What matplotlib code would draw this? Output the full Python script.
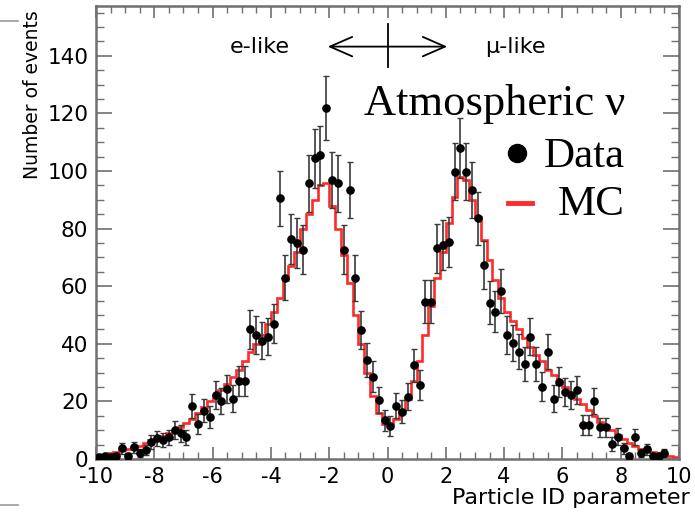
import numpy as np
import matplotlib
matplotlib.use("Agg")
import matplotlib.pyplot as plt
from matplotlib.lines import Line2D
from matplotlib.ticker import MultipleLocator

# ---------------- data ----------------
bin_edges = np.linspace(-10, 10, 101)
bin_centers = 0.5 * (bin_edges[:-1] + bin_edges[1:])

data_counts = [
    0.8, 1.0, 0.6, 1.0, 3.7, 1.0, 4.0, 2.0, 3.1, 6.0,
    7.2, 6.6, 7.5, 10.0, 8.9, 7.5, 18.4, 12.2, 16.8, 14.5,
    22.2, 20.3, 24.2, 21.0, 27.2, 27.2, 45.0, 43.0, 41.0, 42.5,
    47.0, 90.5, 63.0, 76.3, 75.0, 72.6, 95.7, 104.4, 105.5, 121.8,
    96.9, 95.7, 72.6, 93.4, 62.8, 44.8, 34.4, 28.6, 20.5, 13.5,
    11.5, 18.5, 16.4, 21.6, 32.6, 25.7, 54.6, 54.6, 73.2, 74.3,
    75.5, 99.8, 107.9, 99.8, 93.4, 83.6, 67.4, 54.3, 51.2, 58.5,
    43.0, 40.2, 37.3, 33.0, 42.5, 33.0, 25.1, 37.3, 21.0, 26.8,
    23.4, 22.2, 24.0, 11.8, 11.8, 20.1, 11.0, 11.0, 5.2, 7.8,
    3.7, 1.0, 7.7, 2.0, 3.4, 1.0, 1.0, 2.0, np.nan, np.nan,
]

mc_counts = [
    1.0, 1.5, 2.0, 2.5, 3.0, 3.5, 4.0, 4.5, 5.5, 6.5,
    7.0, 8.0, 9.0, 10.0, 11.0, 12.5, 14.0, 16.0, 18.0, 20.0,
    22.0, 24.0, 26.0, 28.5, 31.0, 34.0, 37.0, 40.0, 43.0, 47.0,
    51.0, 56.0, 62.0, 67.0, 72.0, 80.0, 85.0, 90.0, 95.0, 96.0,
    88.0, 80.0, 71.0, 61.0, 50.0, 40.0, 30.0, 22.0, 16.0, 12.0,
    12.0, 14.0, 17.0, 21.0, 27.0, 34.0, 43.0, 53.0, 63.0, 72.0,
    82.0, 91.0, 98.0, 97.0, 90.0, 84.0, 76.0, 69.0, 62.0, 56.0,
    51.0, 48.0, 45.0, 42.0, 39.0, 36.0, 34.0, 31.0, 29.0, 27.0,
    25.0, 23.0, 21.0, 19.0, 17.0, 15.0, 13.0, 11.5, 10.0, 8.5,
    7.0, 5.5, 4.5, 3.5, 3.0, 2.5, 2.0, 1.5, 1.0, 0.8,
]

x_ticks = [-10, -8, -6, -4, -2, 0, 2, 4, 6, 8, 10]
y_ticks = [0, 20, 40, 60, 80, 100, 120, 140]

data_counts = np.array(data_counts, dtype=float)
mc_counts = np.array(mc_counts, dtype=float)
data_err = np.sqrt(data_counts)

# ---------------- figure ----------------
W, H = 695, 519
fig = plt.figure(figsize=(W / 100, H / 100), dpi=100)
ax_l, ax_r, ax_t, ax_b = 96, 679, 6, 459
ax = fig.add_axes([ax_l / W, 1 - ax_b / H, (ax_r - ax_l) / W, (ax_b - ax_t) / H])

frame_col = "#707070"
sans = ["DejaVu Sans"]

# MC histogram (step outline)
ax.stairs(mc_counts, bin_edges, baseline=None, color="#ff2a2a", lw=1.9, zorder=2)

# Data points with error bars
ax.errorbar(bin_centers, data_counts, yerr=data_err, fmt="o", color="black",
            ms=5.2, ecolor="#3a3a3a", elinewidth=1.2, capsize=2.2, capthick=1.0,
            zorder=3)

ax.set_xlim(-10, 10)
ax.set_ylim(0, 157.3)
ax.set_xticks(x_ticks)
ax.set_yticks(y_ticks)
ax.set_xticklabels([str(v) for v in x_ticks], family=sans, fontsize=15)
ax.set_yticklabels([str(v) for v in y_ticks], family=sans, fontsize=15.5)
ax.xaxis.set_minor_locator(MultipleLocator(0.5))
ax.yaxis.set_minor_locator(MultipleLocator(5))

ax.tick_params(axis="x", which="major", direction="in", top=True, bottom=True,
               length=8.6, width=1.2, color=frame_col, pad=5.5)
ax.tick_params(axis="x", which="minor", direction="in", top=True, bottom=True,
               length=4.7, width=1.0, color=frame_col)
ax.tick_params(axis="y", which="major", direction="in", left=True, right=True,
               length=11.5, width=1.2, color=frame_col, pad=5.5)
ax.tick_params(axis="y", which="minor", direction="in", left=True, right=True,
               length=5.8, width=1.0, color=frame_col)
for s in ax.spines.values():
    s.set_color(frame_col)
    s.set_linewidth(1.8)

# axis labels
ax.set_xlabel("Particle ID parameter", family=sans, fontsize=16, ha="right", va="center")
ax.xaxis.set_label_coords((690 - ax_l) / (ax_r - ax_l), (ax_b - 498) / (ax_b - ax_t))
ax.set_ylabel("Number of events", family=sans, fontsize=13.5,
              ha="right", va="center")
ax.yaxis.set_label_coords((33 - ax_l) / (ax_r - ax_l), (ax_b - 10) / (ax_b - ax_t))

# e-like / mu-like arrow
ax.annotate("", xy=(-2.05, 143.2), xytext=(2.05, 143.2),
            arrowprops=dict(arrowstyle="<->,head_length=1.6,head_width=0.7",
                            color="black", lw=1.3, shrinkA=0, shrinkB=0))
ax.plot([0, 0], [136, 151], color="black", lw=1.3)
ax.text(-4.38, 143.2, "e-like", family=sans, fontsize=16, ha="center", va="center")
ax.text(4.38, 143.2, "\u03bc-like", family=sans, fontsize=16, ha="center", va="center")

# legend (manual)
def fx(px):
    return (px - ax_l) / (ax_r - ax_l)

def fy(py):
    return (ax_b - py) / (ax_b - ax_t)

serif = ["Liberation Serif", "DejaVu Serif"]
ax.text(fx(625), fy(115), "Atmospheric \u03bd", transform=ax.transAxes,
        family=serif, fontsize=32, ha="right", va="baseline")
ax.text(fx(625), fy(167), "Data", transform=ax.transAxes,
        family=serif, fontsize=31, ha="right", va="baseline")
ax.text(fx(625), fy(215), "MC", transform=ax.transAxes,
        family=serif, fontsize=31, ha="right", va="baseline")
ax.add_line(Line2D([fx(517)], [fy(153)], transform=ax.transAxes, marker="o",
                   ms=13, color="black", ls="none"))
ax.add_line(Line2D([fx(508), fx(532)], [fy(203), fy(203)], transform=ax.transAxes,
                   color="#ff2a2a", lw=3.5))

# small margin marks at the left edge of the slide
fig.add_artist(Line2D([0, 18 / W], [1 - 21 / H, 1 - 21 / H], color="#999999", lw=1.2))
fig.add_artist(Line2D([0, 18 / W], [1 - 505 / H, 1 - 505 / H], color="#999999", lw=1.2))

fig.savefig("out.png", dpi=100)
